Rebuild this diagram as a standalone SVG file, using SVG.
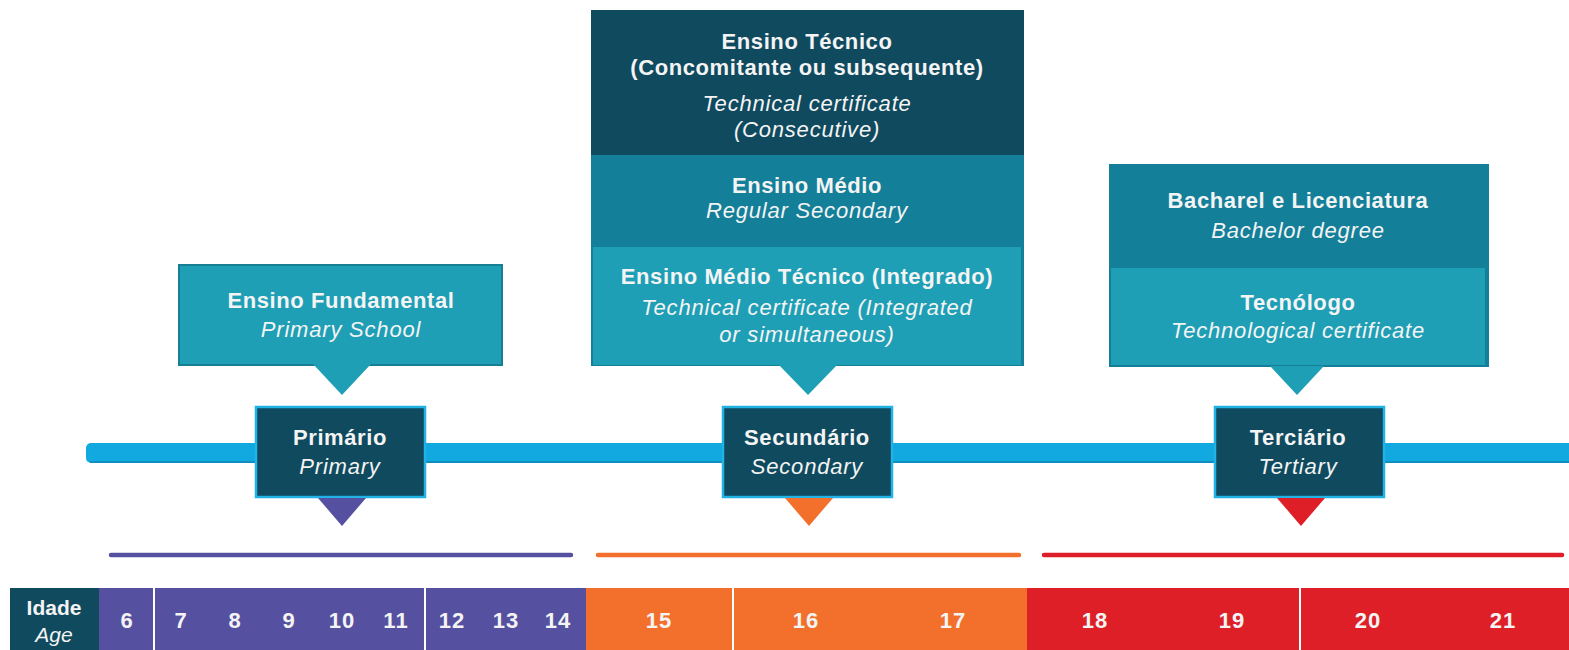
<svg xmlns="http://www.w3.org/2000/svg" width="1569" height="650" viewBox="0 0 1569 650">
  <style>
    text { font-family: "Liberation Sans", Arial, sans-serif; fill: #f4f4f4; text-anchor: middle; }
    .b { font-weight: bold; font-size: 22px; letter-spacing: 0.6px; }
    .i { font-style: italic; font-size: 22px; letter-spacing: 0.8px; }
    .age { font-weight: bold; font-size: 22px; letter-spacing: 1px; }
    .dark { fill: #0f4a5f; }
    .mid { fill: #137f99; }
    .light { fill: #1e9fb5; }
    .level { fill: #0f4a5f; stroke: #22b3e6; stroke-width: 2.5; }
  </style>

  <!-- timeline axis -->
  <g id="timeline">
    <rect x="86" y="443" width="1500" height="20" rx="5" fill="#12a9e0"/>
    <rect x="90" y="461" width="1490" height="2" fill="#0f8fbf"/>
  </g>

  <!-- stage spans -->
  <g id="spans" stroke-width="4.5" stroke-linecap="round">
    <line x1="111" y1="555" x2="571" y2="555" stroke="#5550a0"/>
    <line x1="598" y1="555" x2="1019" y2="555" stroke="#f2702c"/>
    <line x1="1044" y1="555" x2="1562" y2="555" stroke="#de1f27"/>
  </g>

  <!-- primary school callout -->
  <g id="fundamental">
    <rect x="179" y="265" width="323" height="100" class="light" stroke="#167f93" stroke-width="2"/>
    <polygon points="313,364 371,364 342,395" class="light"/>
    <text class="b" x="341" y="308">Ensino Fundamental</text>
    <text class="i" x="341" y="337">Primary School</text>
  </g>

  <!-- secondary callout -->
  <g id="secundario-opcoes">
    <rect x="591" y="10" width="433" height="146" class="dark"/>
    <rect x="591" y="155" width="433" height="211" class="mid"/>
    <rect x="593" y="247" width="428" height="118" class="light"/>
    <polygon points="778,364 838,364 808,395" class="light"/>
    <text class="b" x="807" y="49">Ensino Técnico</text>
    <text class="b" x="807" y="75">(Concomitante ou subsequente)</text>
    <text class="i" x="807" y="111">Technical certificate</text>
    <text class="i" x="807" y="137">(Consecutive)</text>
    <text class="b" x="807" y="193">Ensino Médio</text>
    <text class="i" x="807" y="218">Regular Secondary</text>
    <text class="b" x="807" y="284">Ensino Médio Técnico (Integrado)</text>
    <text class="i" x="807" y="315">Technical certificate (Integrated</text>
    <text class="i" x="807" y="342">or simultaneous)</text>
  </g>

  <!-- tertiary callout -->
  <g id="terciario-opcoes">
    <rect x="1109" y="164" width="380" height="203" class="mid"/>
    <rect x="1111" y="268" width="374" height="97" class="light"/>
    <polygon points="1270,366 1324,366 1297,395" class="light"/>
    <text class="b" x="1298" y="208">Bacharel e Licenciatura</text>
    <text class="i" x="1298" y="238">Bachelor degree</text>
    <text class="b" x="1298" y="310">Tecnólogo</text>
    <text class="i" x="1298" y="338">Technological certificate</text>
  </g>

  <!-- level markers -->
  <g id="primario">
    <rect x="256" y="407" width="169" height="90" class="level"/>
    <polygon points="318,498 366,498 342,526" fill="#5550a0"/>
    <text class="b" x="340" y="445">Primário</text>
    <text class="i" x="340" y="474">Primary</text>
  </g>
  <g id="secundario">
    <rect x="723" y="407" width="169" height="90" class="level"/>
    <polygon points="785,498 833,498 809,526" fill="#f2702c"/>
    <text class="b" x="807" y="445">Secundário</text>
    <text class="i" x="807" y="474">Secondary</text>
  </g>
  <g id="terciario">
    <rect x="1215" y="407" width="169" height="90" class="level"/>
    <polygon points="1277,498 1325,498 1301,526" fill="#de1f27"/>
    <text class="b" x="1298" y="445">Terciário</text>
    <text class="i" x="1298" y="474">Tertiary</text>
  </g>

  <!-- age scale -->
  <g id="idades">
    <rect x="10" y="588" width="89" height="62" fill="#0f4a5f"/>
    <rect x="99" y="588" width="487" height="62" fill="#5550a0"/>
    <rect x="586" y="588" width="441" height="62" fill="#f2702c"/>
    <rect x="1027" y="588" width="542" height="62" fill="#de1f27"/>
    <g fill="#ffffff">
      <rect x="153" y="588" width="2" height="62"/>
      <rect x="424" y="588" width="2" height="62"/>
      <rect x="732" y="588" width="2" height="62"/>
      <rect x="1299" y="588" width="2" height="62"/>
    </g>
    <text x="54" y="615" style="font-weight:bold;font-size:21px">Idade</text>
    <text x="54" y="642" style="font-style:italic;font-size:21px">Age</text>
    <text class="age" x="127" y="628">6</text>
    <text class="age" x="181" y="628">7</text>
    <text class="age" x="235" y="628">8</text>
    <text class="age" x="289" y="628">9</text>
    <text class="age" x="342" y="628">10</text>
    <text class="age" x="396" y="628">11</text>
    <text class="age" x="452" y="628">12</text>
    <text class="age" x="506" y="628">13</text>
    <text class="age" x="558" y="628">14</text>
    <text class="age" x="659" y="628">15</text>
    <text class="age" x="806" y="628">16</text>
    <text class="age" x="953" y="628">17</text>
    <text class="age" x="1095" y="628">18</text>
    <text class="age" x="1232" y="628">19</text>
    <text class="age" x="1368" y="628">20</text>
    <text class="age" x="1503" y="628">21</text>
  </g>
</svg>
